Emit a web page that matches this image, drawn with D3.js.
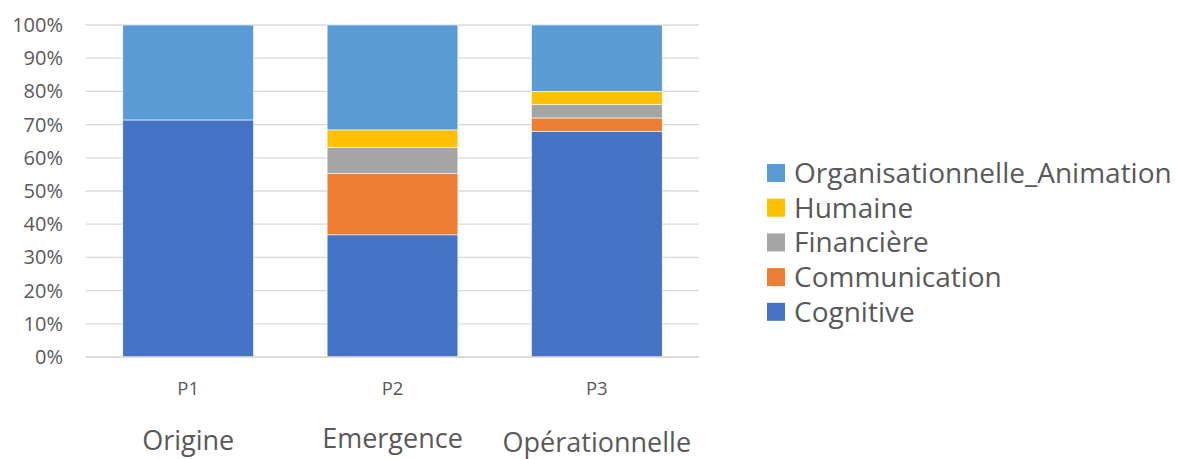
<!DOCTYPE html>
<html>
<head>
<meta charset="utf-8">
<script src="https://cdn.jsdelivr.net/npm/d3@7"></script>
<style>
  body { margin: 0; background: #fff; }
  text { font-family: "Open Sans", sans-serif; fill: #595959; }
</style>
</head>
<body>
<div id="chart"></div>
<script>
// periods on the x axis, with the phase name written below each
var periods = ["P1", "P2", "P3"];
var phases = ["Origine", "Emergence", "Opérationnelle"];

// share of each competence type per period
var cognitive     = [0.714, 0.368, 0.68];
var communication = [0, 0.184, 0.04];
var financiere    = [0, 0.079, 0.04];
var humaine       = [0, 0.053, 0.04];
var organisation  = [0.286, 0.316, 0.20];

var seriesNames = ["Cognitive", "Communication", "Financière", "Humaine", "Organisationnelle_Animation"];
var seriesColors = ["#4472c4", "#ed7d31", "#a5a5a5", "#ffc000", "#5b9bd5"];
var yTicks = [0, 0.1, 0.2, 0.3, 0.4, 0.5, 0.6, 0.7, 0.8, 0.9, 1];

var W = 1177, H = 459;
var margin = { top: 25, left: 86, plotRight: 699, bottom: 357 };

var svg = d3.select("#chart").append("svg")
  .attr("width", W).attr("height", H);

// build rows for d3.stack
var rows = periods.map(function(p, i) {
  return {
    period: p,
    "Cognitive": cognitive[i],
    "Communication": communication[i],
    "Financière": financiere[i],
    "Humaine": humaine[i],
    "Organisationnelle_Animation": organisation[i]
  };
});
var stacked = d3.stack().keys(seriesNames)(rows);

var x = d3.scaleBand()
  .domain(periods)
  .range([margin.left, margin.plotRight])
  .paddingInner(0.36).paddingOuter(0.18);

var y = d3.scaleLinear()
  .domain([0, 1])
  .range([margin.bottom, margin.top]);

// gridlines
svg.append("g")
  .selectAll("line").data(yTicks).join("line")
  .attr("x1", margin.left).attr("x2", margin.plotRight)
  .attr("y1", d => y(d)).attr("y2", d => y(d))
  .attr("stroke", "#d9d9d9").attr("stroke-width", 1.3);

// y tick labels
svg.append("g")
  .selectAll("text").data(yTicks).join("text")
  .attr("x", 63).attr("y", d => y(d))
  .attr("dy", "0.35em")
  .attr("text-anchor", "end")
  .style("font-size", "20px")
  .text(d => d3.format(".0%")(d));

// stacked bars
var color = d3.scaleOrdinal().domain(seriesNames).range(seriesColors);
svg.append("g")
  .selectAll("g").data(stacked).join("g")
  .attr("fill", d => color(d.key))
  .selectAll("rect").data(d => d).join("rect")
  .attr("x", d => x(d.data.period))
  .attr("y", d => y(d[1]))
  .attr("width", x.bandwidth())
  .attr("height", d => y(d[0]) - y(d[1]))
  .attr("stroke", "#fff").attr("stroke-width", 0.6);

// x axis line drawn again on top
svg.append("line")
  .attr("x1", margin.left).attr("x2", margin.plotRight)
  .attr("y1", y(0)).attr("y2", y(0))
  .attr("stroke", "#d9d9d9").attr("stroke-width", 1.3);

// period labels
svg.append("g")
  .selectAll("text").data(periods).join("text")
  .attr("x", d => x(d) + x.bandwidth() / 2)
  .attr("y", 395)
  .attr("text-anchor", "middle")
  .style("font-size", "18.5px")
  .text(d => d);

// phase names below
var phaseY = [450, 448, 452];
svg.append("g")
  .selectAll("text").data(phases).join("text")
  .attr("x", (d, i) => x(periods[i]) + x.bandwidth() / 2)
  .attr("y", (d, i) => phaseY[i])
  .attr("text-anchor", "middle")
  .style("font-size", "27px")
  .text(d => d);

// legend, top entry is the last series
var legendItems = seriesNames.slice().reverse();
var legend = svg.append("g")
  .selectAll("g").data(legendItems).join("g")
  .attr("transform", (d, i) => `translate(767, ${173 + i * 34.7})`);
legend.append("rect")
  .attr("x", 0).attr("y", -9)
  .attr("width", 18).attr("height", 18)
  .attr("fill", d => color(d));
legend.append("text")
  .attr("x", 27).attr("y", 0)
  .attr("dy", "0.35em")
  .style("font-size", "28px")
  .text(d => d);
</script>
</body>
</html>
